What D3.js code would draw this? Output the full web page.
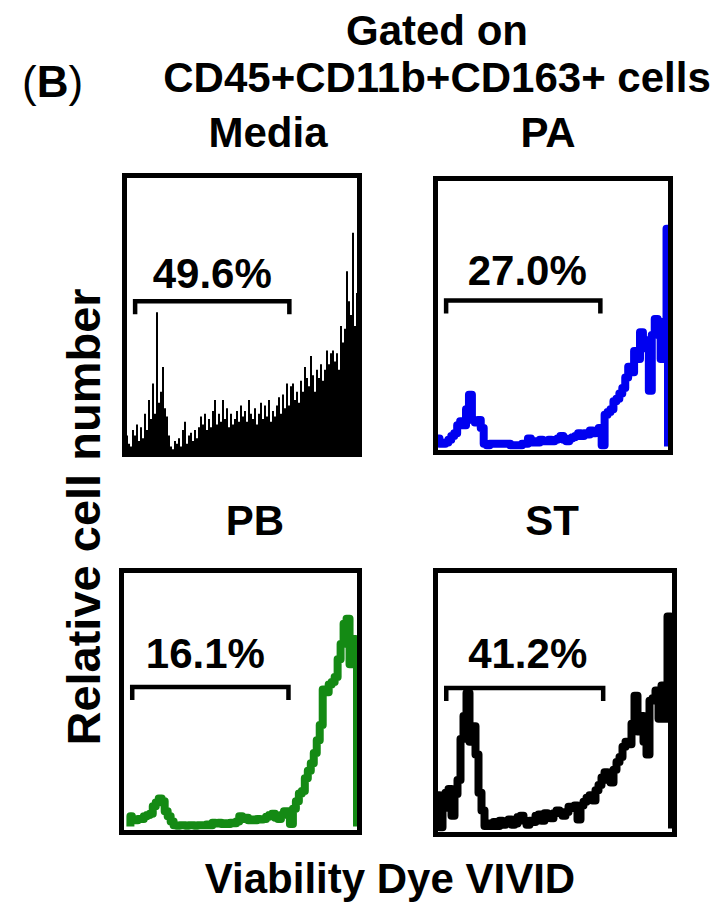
<!DOCTYPE html>
<!-- Viability dye histograms, four conditions, gated on CD45+CD11b+CD163+ cells -->
<meta charset="utf-8">
<style>
 body { margin: 0; background: #fff; }
 text {
     font-family: "Liberation Sans", Arial, sans-serif;
     font-weight: bold;
     fill: #000;
 }
 .frame {
     fill: none;
     stroke: #000;
     stroke-width: 5px;
 }
 .gate {
     fill: none;
     stroke: #000;
     stroke-width: 4.5px;
 }
 .trace {
     fill: none;
     stroke-width: 8px;
     stroke-linejoin: round;
 }
</style>

<svg class="chart"></svg>

<script src="https://cdn.jsdelivr.net/npm/d3@7"></script>

<script>

 // values, relative cell number in % of panel height
 var panelNames = ["Media", "PA", "PB", "ST"];
 var gatePercents = ["49.6%", "27.0%", "16.1%", "41.2%"];
 var gateChannels = [9, 180];
 var gateLevel = 55;
 var startChannel = [0, 0, 7, 0];

 var mediaCounts = [6,3,2,8,6,10,4,9,5,14, 8,19,12,25,14,51,18,22,31,16,
                    13,6,2,1,4,3,5,2,8,11, 3,6,7,4,8,5,9,13,10,14,
                    8,12,9,15,19,10,14,11,19,12, 16,9,14,10,12,15,11,17,13,15,
                    11,19,14,12,16,10,14,18,12,17, 13,19,11,15,13,17,20,14,21,16,
                    25,17,24,25,19,22,18,26,22,31, 27,24,35,28,22,30,27,32,26,30,
                    37,32,36,37,33,36,30,46,40,45, 66,55,50,80,46,58];

 var paCounts = [3,1,1,1.5,2.5,4,5,8,9.5,8, 14,19.5,10,9,10,7,1,0.5,1,1,
                 1,1,1,1,1,0.5,0.5,0.5,0.5,1, 1,3,1.5,2,1.5,2.5,2,2,2.5,2,
                 2.5,3,4,2.5,2,3,3.5,4,5,4, 5,4.5,6,5,5.5,7,0.5,12,13,14,
                 17,18,20,22,26,30,28,36,33,43, 37,40,21,42,48,47,33,45,82];

 var pbCounts = [4,2.5,2.5,3,3,4,4.5,5,8,9.5, 11,10,6,4,2,0.5,0.3,0.5,0.5,0.3,
                 0.5,0.5,0.3,0.5,0.5,0.5,0.8,0.5,1.5,1.2, 1.5,1,1.3,1,1.5,1.3,2,4,3,3.5,
                 2.5,2.8,2.5,3,2.8,3,3.8,4.5,5,3.5, 3,4.5,6,6,1,7,10,13,14,19,
                 22,25,29,34,40,54,53,56,57,59, 66,72,80,82,64,74,73];

 var stCounts = [13,0.5,8,14,15.5,5,13.5,19,35,44, 53,34,40,29,14,7,1,2,1,2.5,
                 1,3,1.5,2,3.5,1.5,2,4.5,5,3, 1.5,3,2.5,5,5.5,3,6,5,4,6,
                 7,6.5,5,6.5,8.5,8,9,3.5,9,10.5, 12,13,11,15,17,20,22,19,18,23,
                 26,28,32,34,33,41,52,38,44,34, 29,50,51,54,43,56,43,83,45];

 var seriesCounts = [mediaCounts, paCounts, pbCounts, stCounts];

 // panel frames (outer edges) and where the texts go
 var panels = [
     {x0: 122, y0: 173, x1: 362, y1: 457, tx: 268, ty: 147, color: "#000", filled: true,  ldx: 0,  ldy: 13},
     {x0: 433, y0: 176, x1: 673, y1: 455, tx: 548, ty: 147, color: "#0000f0", filled: false, ldx: 4,  ldy: 15},
     {x0: 119, y0: 568, x1: 362, y1: 835, tx: 255, ty: 535, color: "#148a14", filled: false, ldx: -5, ldy: 19},
     {x0: 433, y0: 568, x1: 677, y1: 837, tx: 552, ty: 535, color: "#000", filled: false, ldx: 3,  ldy: 20}
 ];

 var svg = d3.select(".chart").attr("width", 724).attr("height", 911);

 svg.append("text").attr("x", 22).attr("y", 97).style("font-size", "44px")
    .html('<tspan style="font-weight:normal">(</tspan>B<tspan style="font-weight:normal">)</tspan>');

 svg.append("text").attr("x", 437).attr("y", 45).attr("text-anchor", "middle")
    .style("font-size", "42px").text("Gated on");
 svg.append("text").attr("x", 437).attr("y", 92).attr("text-anchor", "middle")
    .style("font-size", "42px").text("CD45+CD11b+CD163+ cells");

 svg.append("text").attr("transform", "translate(100,517) rotate(-90)").attr("text-anchor", "middle")
    .style("font-size", "47px").text("Relative cell number");
 svg.append("text").attr("x", 390).attr("y", 893).attr("text-anchor", "middle")
    .style("font-size", "42px").text("Viability Dye VIVID");

 panels.forEach(function(p, k) {
     var g = svg.append("g");
     var il = p.x0 + 5, ir = p.x1 - 5, it = p.y0 + 5, ib = p.y1 - 5;

     var x = d3.scaleLinear().domain([0, 255]).range([il, ir]);
     var y = d3.scaleLinear().domain([0, 100]).range([p.filled ? ib : ib - 3.5, it]);

     var counts = seriesCounts[k];
     var start = startChannel[k];
     var step = (255 - start) / (counts.length - 1);
     var bins = counts.map(function(v, i) { return {c: start + i * step, v: v}; });

     if (p.filled) {
         var area = d3.area().curve(d3.curveStep).x(function(d) { return x(d.c); })
                     .y0(ib).y1(function(d) { return y(d.v); });
         g.append("path").datum(bins).attr("d", area).attr("fill", p.color);
     } else {
         var pts = [{c: bins[0].c, v: 0}].concat(bins, [{c: bins[bins.length - 1].c, v: 0}]);
         var line = d3.line().curve(d3.curveStep).x(function(d) { return x(d.c); }).y(function(d) { return y(d.v); });
         g.append("path").datum(pts).attr("class", "trace").attr("d", line).attr("stroke", p.color);
     }

     g.append("rect").attr("class", "frame")
      .attr("x", p.x0 + 2.5).attr("y", p.y0 + 2.5)
      .attr("width", p.x1 - p.x0 - 5).attr("height", p.y1 - p.y0 - 5);

     // gate bracket
     var gx0 = x(gateChannels[0]), gx1 = x(gateChannels[1]), gy = y(gateLevel);
     g.append("path").attr("class", "gate")
      .attr("d", "M" + gx0 + "," + (gy + 13) + "V" + gy + "H" + gx1 + "V" + (gy + 13));

     g.append("text").attr("x", (gx0 + gx1) / 2 + p.ldx).attr("y", gy - p.ldy)
      .attr("text-anchor", "middle").style("font-size", "42px").text(gatePercents[k]);

     svg.append("text").attr("x", p.tx).attr("y", p.ty).attr("text-anchor", "middle")
        .style("font-size", "42px").text(panelNames[k]);
 });

</script>
